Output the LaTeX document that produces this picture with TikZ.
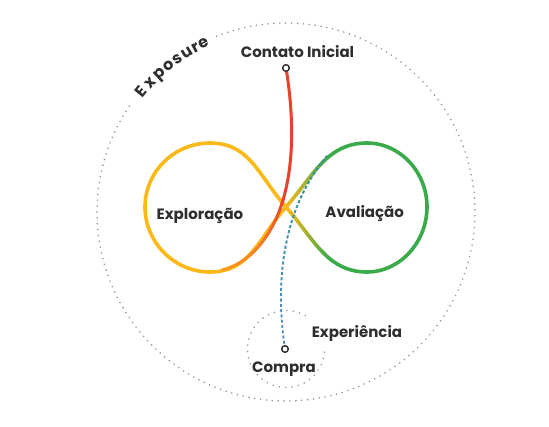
\documentclass[tikz,border=0pt]{standalone}
\usepackage{fontspec}
\setmainfont{Poppins}
\usetikzlibrary{fadings}
\definecolor{infyellow}{HTML}{FBB917}
\definecolor{infgreen}{HTML}{3AAA4B}
\definecolor{infred}{HTML}{E8412C}
\definecolor{infor}{HTML}{F37A20}
\definecolor{blu}{HTML}{5B8AD0}
\definecolor{tealc}{HTML}{2E9C8C}
\definecolor{dotgray}{HTML}{999999}
\definecolor{txt}{HTML}{2E2E2E}
\tikzfading[name=tealfade, top color=transparent!0, middle color=transparent!85, bottom color=transparent!100]
% #1 colour A, #2 colour B, #3 t start, #4 t end, #5 steps, #6 p0, #7 c1, #8 c2, #9 p3
\newcommand\gradcurve[9]{%
  \foreach \k in {1,...,#5}{%
    \pgfmathsetmacro\ta{#3+(#4-#3)*(\k-1)/#5}%
    \pgfmathsetmacro\tb{#3+(#4-#3)*\k/#5}%
    \pgfmathtruncatemacro\pc{100*(\k-0.5)/#5}%
    \colorlet{gmix}{#2!\pc!#1}%
    \pgfsetstrokecolor{gmix}%
    \pgfpathcurvebetweentime{\ta}{\tb}{\pgfpointxy#6}{\pgfpointxy#7}{\pgfpointxy#8}{\pgfpointxy#9}%
    \pgfusepath{stroke}%
  }}
\begin{document}
\begin{tikzpicture}[x=1pt,y=-1pt,
  dots/.style={draw=dotgray, line width=1.8pt, line cap=round, dash pattern=on 0pt off 5.9pt},
  inf/.style={line width=3.6pt, line cap=round},
  redline/.style={draw=infred, line width=3pt, line cap=round},
  blueline/.style={draw=blu, line width=1.8pt, dash pattern=on 3pt off 2.3pt},
  hollow/.style={circle, draw=txt, fill=white, line width=1.3pt, minimum size=6.5pt, inner sep=0pt},
  lbl/.style={font=\bfseries\fontsize{15}{18}\selectfont, text=txt, inner sep=0pt, anchor=base},
  expo/.style={font=\bfseries\fontsize{16}{18}\selectfont, text=txt, inner sep=0pt, anchor=base}]
\useasboundingbox[fill=white] (0,0) rectangle (549,426);

% outer and inner dotted circles
\draw[dots] plot[domain=146:473, samples=300] ({286+189*cos(\x)},{212-189*sin(\x)});
\draw[dots, dash pattern=on 0pt off 6.4pt] plot[domain=60:362, samples=120] ({286+38.5*cos(\x)},{349-38.5*sin(\x)});

% Exposure along the arc
\foreach \a/\l [count=\n] in {140.5/E,136.5/x,132.6/p,128.8/o,125.2/s,121.9/u,118.9/r,116.2/e}
  \node[expo, rotate=\a-90] (expo\n) at ({286+183*cos(\a)},{212-183*sin(\a)}) {\l};

% infinity: yellow left lobe
\draw[inf, draw=infyellow] (286,207) .. controls (258,175) and (250,143) .. (210,143)
  .. controls (174,143) and (145,172) .. (145,207)
  .. controls (145,242) and (174,272) .. (210,272)
  .. controls (250,272) and (258,239) .. (286,207);
% green right lobe
\draw[inf, draw=infgreen] (367,143) .. controls (400,143) and (427,172) .. (427,207)
  .. controls (427,242) and (400,272) .. (367,272);
\begin{scope}[line width=3.6pt, line cap=round]
  \gradcurve{infyellow}{infgreen}{0}{0.6}{24}{{286}{207}}{{314}{175}}{{327}{143}}{{367}{143}}
  \gradcurve{infgreen}{infgreen}{0.6}{1}{2}{{286}{207}}{{314}{175}}{{327}{143}}{{367}{143}}
  \gradcurve{infgreen}{infgreen}{0}{0.4}{2}{{367}{272}}{{327}{272}}{{314}{239}}{{286}{207}}
  \gradcurve{infgreen}{infyellow}{0.4}{1}{24}{{367}{272}}{{327}{272}}{{314}{239}}{{286}{207}}
\end{scope}

% nodes
\node[hollow] (contato) at (286,68) {};
\node[hollow] (compra) at (285,349) {};

% red path from Contato Inicial
\draw[redline] (contato.center) .. controls (293,110) and (295,160) .. (283,200);
\begin{scope}[line width=3pt, line cap=round]
  \gradcurve{infred}{infor}{0}{0.5}{16}{{283}{200}}{{275}{228}}{{255}{262}}{{222}{270}}
  \gradcurve{infor}{infor!45!infyellow}{0.5}{1}{16}{{283}{200}}{{275}{228}}{{255}{262}}{{222}{270}}
\end{scope}

% blue dashed path from Compra
\draw[blueline] (compra.center) .. controls (276,290) and (279,213) .. (327,156);
\draw[blueline, draw=tealc, path fading=tealfade] (compra.center) .. controls (276,290) and (279,213) .. (327,156);

\node[hollow] at (contato) {};
\node[hollow] at (compra) {};

% labels
\node[lbl] (contatolbl) at (297.5,57) {Contato Inicial};
\node[lbl] (explbl) at (200,219.3) {Exploração};
\node[lbl] (avalbl) at (364.7,217.3) {Avaliação};
\node[lbl] (experlbl) at (357,337.3) {Experiência};
\node[lbl] (compralbl) at (284,372.7) {Compra};
\end{tikzpicture}
\end{document}
